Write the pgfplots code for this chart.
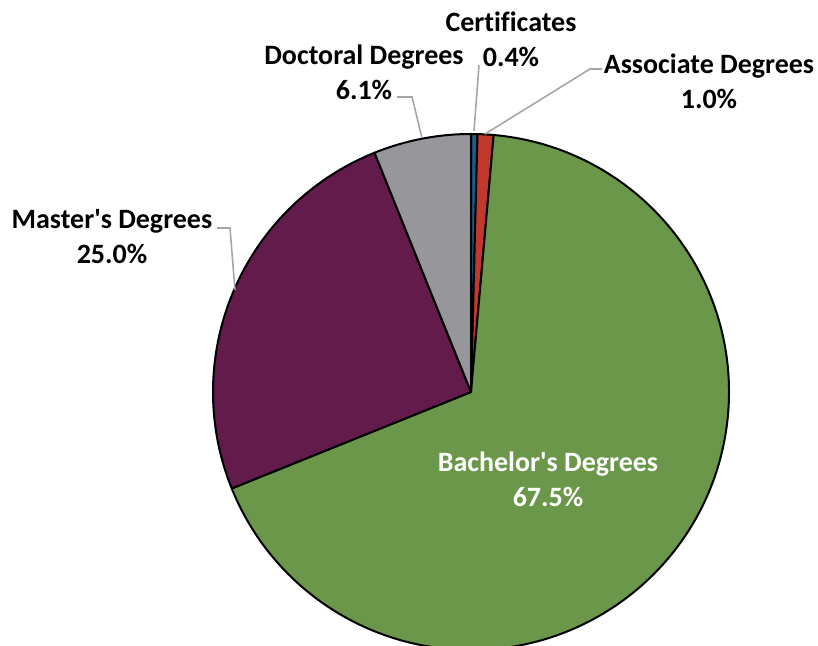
\documentclass[border=0pt]{standalone}
\usepackage{pgfplots}
\usepackage{pgfplotstable}
\pgfplotsset{compat=1.18}
\usepackage{fontspec}
\setmainfont{Carlito}[Ligatures={NoCommon}]

\definecolor{ccert}{RGB}{27,94,143}
\definecolor{cassoc}{RGB}{192,57,43}
\definecolor{cbach}{RGB}{106,151,73}
\definecolor{cmast}{RGB}{98,27,75}
\definecolor{cdoct}{RGB}{150,150,155}
\definecolor{leader}{RGB}{166,166,166}

% share of degrees, clockwise from 12 o'clock
\pgfplotstableread{
name         pct   col
Certificates 0.4   ccert
Associate    1.0   cassoc
Bachelor     67.5  cbach
Master       25.0  cmast
Doctoral     6.1   cdoct
}\piedata

\newcommand{\lbl}{\bfseries\fontsize{21}{26}\selectfont}

\begin{document}
\begin{tikzpicture}
\begin{axis}[
    name=ax,
    scale only axis,
    width=613.5pt,
    height=484.5pt,
    xmin=0, xmax=818,
    ymin=0, ymax=646,
    hide axis,
    clip=false
]
% wedges: centre (471,254), radius 258 px = 193.5pt
\def\cum{0}
\pgfplotsforeachungrouped \i in {0,...,4}{%
    \pgfplotstablegetelem{\i}{pct}\of\piedata
    \let\p=\pgfplotsretval
    \pgfplotstablegetelem{\i}{col}\of\piedata
    \let\c=\pgfplotsretval
    \pgfmathsetmacro\sa{90-3.6*\cum}
    \pgfmathsetmacro\ea{90-3.6*(\cum+\p)}
    \edef\wedge{\noexpand\filldraw[fill=\c, draw=black, line width=1.5pt, line join=round]
        (axis cs:471,254) -- ++(\sa:193.5pt)
        arc[start angle=\sa, end angle=\ea, radius=193.5pt] -- cycle;}
    \wedge
    \pgfmathsetmacro\cum{\cum+\p}
    \global\let\cum=\cum
}

% leader lines
\draw[leader, line width=1.2pt] (axis cs:479,581) -- (axis cs:474,515);
\draw[leader, line width=1.2pt] (axis cs:397,549) -- (axis cs:412,549) -- (axis cs:422,508);
\draw[leader, line width=1.2pt] (axis cs:602,577) -- (axis cs:590,577) -- (axis cs:485,512);
\draw[leader, line width=1.2pt] (axis cs:217,418) -- (axis cs:230,418) -- (axis cs:235,356);

% labels
\node[align=center, font=\lbl] at (axis cs:511,606.5) {Certificates\\0.4\%};
\node[align=center, font=\lbl] at (axis cs:364,574) {Doctoral Degrees\\6.1\%};
\node[align=center, font=\lbl] at (axis cs:709,565) {Associate Degrees\\1.0\%};
\node[align=center, font=\lbl] at (axis cs:112,409.5) {Master\textquotesingle s Degrees\\25.0\%};
\node[align=center, font=\lbl, text=white] at (axis cs:548,166.5) {Bachelor\textquotesingle s Degrees\\67.5\%};
\end{axis}
\pgfresetboundingbox
\path (ax.south west) rectangle (ax.north east);
\end{tikzpicture}
\end{document}
